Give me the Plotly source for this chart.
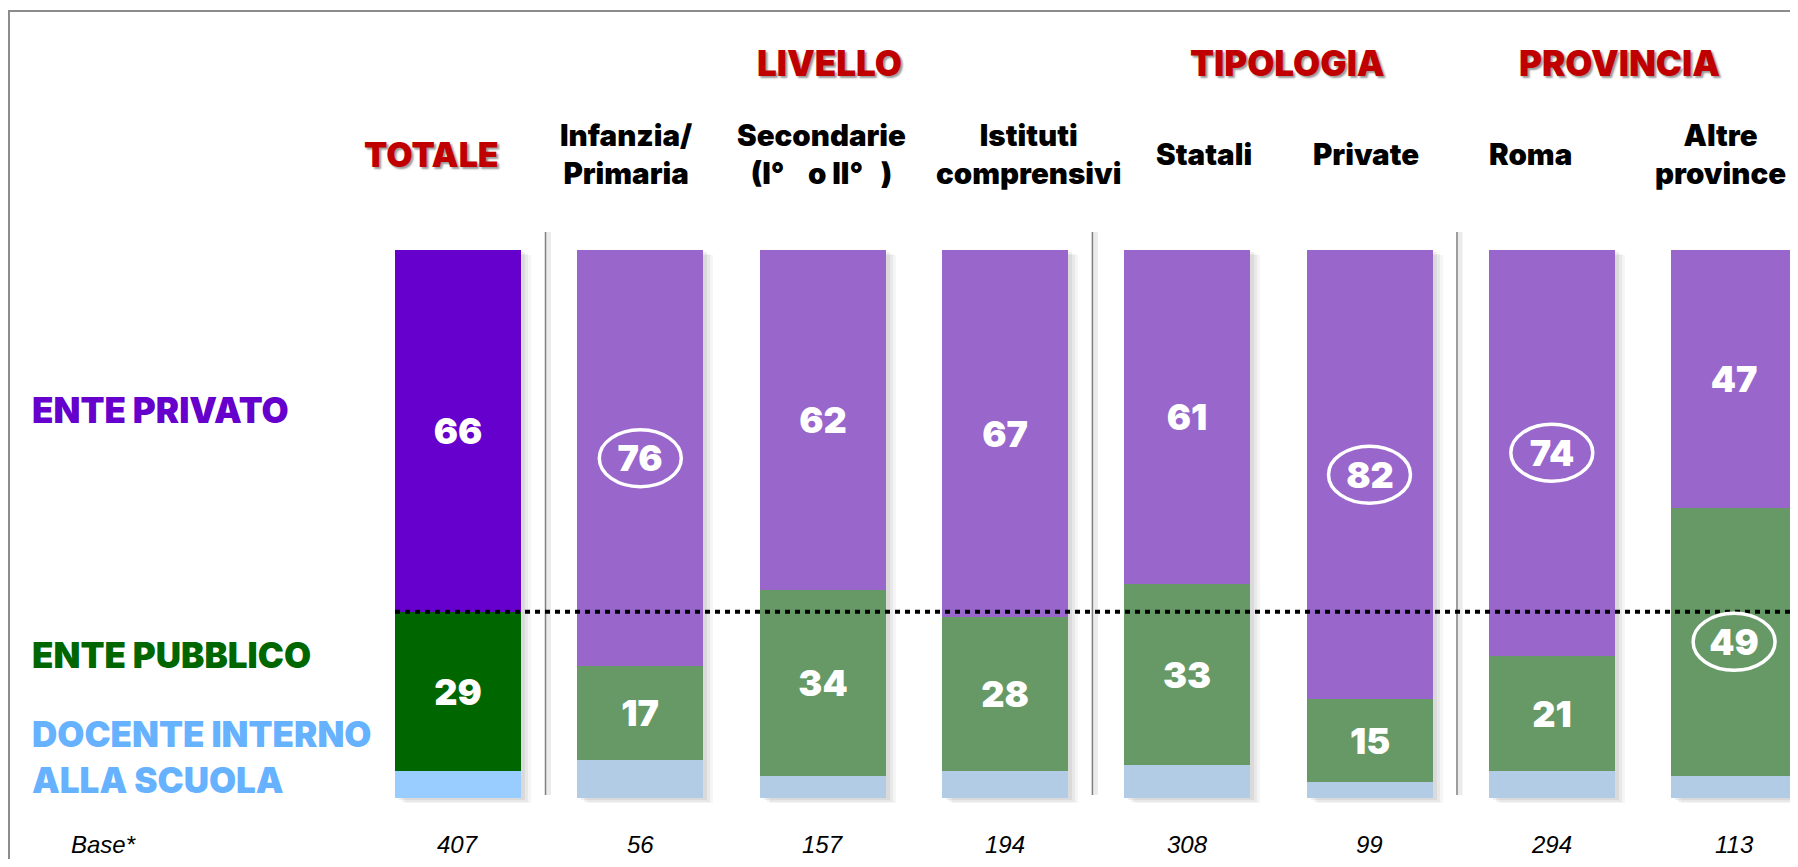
import plotly.graph_objects as go

# ---------------- data ----------------
col_labels = ["TOTALE", "Infanzia/<br>Primaria",
              "Secondarie<br>(I°\u00a0\u00a0\u00a0\u00a0o II°\u00a0\u00a0\u00a0)",
              "Istituti<br>comprensivi", "Statali", "Private", "Roma", "Altre<br>province"]
ente_privato = [66, 76, 62, 67, 61, 82, 74, 47]
ente_pubblico = [29, 17, 34, 28, 33, 15, 21, 49]
docente_interno = [5, 7, 4, 5, 6, 3, 5, 4]
base_n = [407, 56, 157, 194, 308, 99, 294, 113]
group_names = ["LIVELLO", "TIPOLOGIA", "PROVINCIA"]
group_members = [[1, 2, 3], [4, 5], [6, 7]]
circled_privato = [1, 5, 6]
circled_pubblico = [7]

# ---------------- geometry helpers ----------------
OFF = 8                         # page body margin
W, H = 1798 - OFF, 867 - 2 * OFF
X0, DX = 458.0 - OFF, 182.3     # pixel centre of first bar, pixel spacing
Y0, Y100 = 798.0 - OFF, 250.0 - OFF
SY = (Y0 - Y100) / 100.0
xr = [(0 - X0) / DX, (W - X0) / DX]
yr = [-(H - Y0) / SY, Y0 / SY]


def py(page_px):  # page pixel row -> data value
    return (Y0 - (page_px - OFF)) / SY


def pxp(page_px):  # page pixel column -> paper
    return (page_px - OFF) / W


x = list(range(len(col_labels)))
BW = 126 / DX

HEAVY = "Inter"
PLAIN = "Liberation Sans, Arial, sans-serif"

priv_col = ["#6600CC"] + ["#9966CC"] * 7
pub_col = ["#006600"] + ["#669966"] * 7
doc_col = ["#99CCFF"] + ["#B3CCE6"] * 7

fig = go.Figure()

# soft shadows (behind, on the base axes)
tot = [a + b + c for a, b, c in zip(ente_privato, ente_pubblico, docente_interno)]
for off, alpha in [(10, 0.04), (7, 0.05), (4, 0.06)]:
    fig.add_trace(go.Bar(x=x, y=tot, base=[-off / SY * 0.5] * len(x), width=BW,
                         offset=-BW / 2 + off / DX,
                         marker=dict(color=f"rgba(0,0,0,{alpha})", line=dict(width=0)),
                         hoverinfo="skip", showlegend=False, xaxis="x", yaxis="y"))

vfont = dict(family=HEAVY, size=36, color="white", weight=900)
fig.add_trace(go.Bar(x=x, y=docente_interno, width=BW, name="DOCENTE INTERNO ALLA SCUOLA",
                     marker=dict(color=doc_col, line=dict(width=0)),
                     showlegend=False, xaxis="x2", yaxis="y2"))
fig.add_trace(go.Bar(x=x, y=ente_pubblico, width=BW, name="ENTE PUBBLICO",
                     marker=dict(color=pub_col, line=dict(width=0)),
                     text=[str(v) for v in ente_pubblico], textposition="inside",
                     insidetextanchor="middle", constraintext="none", textfont=vfont,
                     showlegend=False, xaxis="x2", yaxis="y2"))
fig.add_trace(go.Bar(x=x, y=ente_privato, width=BW, name="ENTE PRIVATO",
                     marker=dict(color=priv_col, line=dict(width=0)),
                     text=[str(v) for v in ente_privato], textposition="inside",
                     insidetextanchor="middle", constraintext="none", textfont=vfont,
                     showlegend=False, xaxis="x2", yaxis="y2"))

shapes = []
# frame
shapes.append(dict(type="rect", xref="paper", yref="paper", x0=pxp(9), x1=1.05,
                   y0=-0.05, y1=1 - (11 - OFF) / H, line=dict(color="#8c8c8c", width=2),
                   fillcolor="rgba(0,0,0,0)", layer="below"))
# group separators
for g in group_members:
    sx = g[0] - 0.52
    shapes.append(dict(type="line", xref="x", yref="y", x0=sx + 3 / DX, x1=sx + 3 / DX,
                       y0=py(795), y1=py(232), line=dict(color="rgba(0,0,0,0.08)", width=5),
                       layer="below"))
    shapes.append(dict(type="line", xref="x", yref="y", x0=sx, x1=sx,
                       y0=py(795), y1=py(232), line=dict(color="#7f7f7f", width=1.5)))
# dotted reference line at TOTALE level
ref = ente_pubblico[0] + docente_interno[0]
shapes.append(dict(type="line", xref="x2", yref="y2", x0=x[0] - BW / 2, x1=xr[1] + 0.2,
                   y0=ref, y1=ref, line=dict(color="black", width=4, dash="5px,5px")))
# ellipses around highlighted values
centres = [(i, docente_interno[i] + ente_pubblico[i] + ente_privato[i] / 2) for i in circled_privato]
centres += [(i, docente_interno[i] + ente_pubblico[i] / 2) for i in circled_pubblico]
for i, yc in centres:
    shapes.append(dict(type="circle", xref="x2", yref="y2", xsizemode="pixel",
                       ysizemode="pixel", xanchor=x[i], yanchor=yc,
                       x0=-41, x1=41, y0=-28.5, y1=28.5,
                       line=dict(color="white", width=3.5)))

ann = []
shadow = "2px 2px 2px rgba(0,0,0,0.40)"
# group headers
group_shift = [7, 9, -23]
for name, mem, sh in zip(group_names, group_members, group_shift):
    ann.append(dict(x=sum(mem) / len(mem), y=py(63), xref="x", yref="y", text=name,
                    showarrow=False, xshift=sh, xanchor="center", yanchor="middle",
                    font=dict(family=HEAVY, size=35, color="#C00000", weight=900,
                              shadow=shadow)))
# column headers
col_shift = [-27, -14, -1, 24, 17, -4, -21, -14]
for i, (lab, sh) in enumerate(zip(col_labels, col_shift)):
    if i == 0:
        f = dict(family=HEAVY, size=34, color="#C00000", weight=900, shadow=shadow)
    else:
        f = dict(family=HEAVY, size=29.5, color="black", weight=900)
    ann.append(dict(x=x[i], y=py(154), xref="x", yref="y", text=lab, showarrow=False,
                    xshift=sh, xanchor="center", yanchor="middle", align="center",
                    font=f))
# row labels
row_labels = [("ENTE PRIVATO", 410, "#6600CC"), ("ENTE PUBBLICO", 655, "#006600"),
              ("DOCENTE INTERNO<br>ALLA SCUOLA", 757, "#66B2FF")]
for txt, ypx, col in row_labels:
    ann.append(dict(x=pxp(30), y=py(ypx), xref="paper", yref="y", text=txt,
                    showarrow=False, xanchor="left", yanchor="middle", align="left",
                    font=dict(family=HEAVY, size=35, color=col, weight=900)))
# base row
ann.append(dict(x=pxp(69), y=py(844), xref="paper", yref="y", text="Base*",
                showarrow=False, xanchor="left", yanchor="middle",
                font=dict(family=PLAIN, size=24, color="black", style="italic")))
for i, n in enumerate(base_n):
    ann.append(dict(x=x[i], y=py(844), xref="x", yref="y", text=str(n), showarrow=False,
                    xanchor="center", yanchor="middle",
                    font=dict(family=PLAIN, size=24, color="black", style="italic")))

ax = dict(visible=False, showgrid=False, zeroline=False, fixedrange=True)
fig.update_layout(
    width=W, height=H, autosize=False,
    margin=dict(l=0, r=0, t=0, b=0, pad=0),
    paper_bgcolor="white", plot_bgcolor="white",
    barmode="stack", bargap=0,
    xaxis=dict(range=xr, domain=[0, 1], **ax),
    yaxis=dict(range=yr, domain=[0, 1], **ax),
    xaxis2=dict(range=xr, overlaying="x", matches="x", **ax),
    yaxis2=dict(range=yr, overlaying="y", matches="y", **ax),
    shapes=shapes, annotations=ann, showlegend=False,
)

fig.write_html("out.html")
